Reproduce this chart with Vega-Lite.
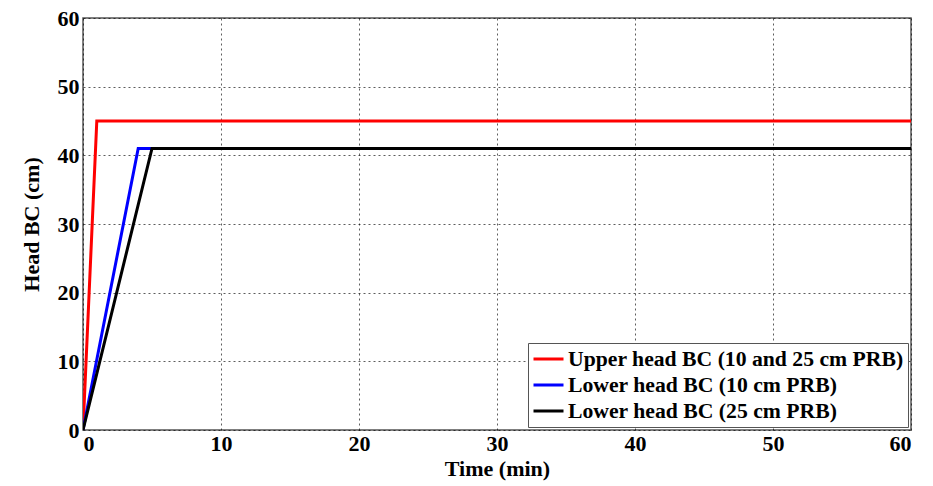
{
  "$schema": "https://vega.github.io/schema/vega-lite/v6.json",
  "width": 828,
  "height": 412,
  "autosize": {"type": "none"},
  "padding": {"left": 83, "top": 18, "right": 22, "bottom": 56},
  "background": "white",
  "config": {
    "font": "Liberation Serif",
    "view": {"stroke": "#555555", "strokeWidth": 1.5},
    "axis": {
      "labelFont": "Liberation Serif",
      "labelFontWeight": "bold",
      "labelFontSize": 22,
      "labelColor": "black",
      "titleFont": "Liberation Serif",
      "titleFontWeight": "bold",
      "titleFontSize": 22,
      "titleColor": "black",
      "gridColor": "black",
      "gridDash": [2, 3],
      "gridWidth": 0.8,
      "gridOpacity": 0.8,
      "domain": false,
      "tickSize": 0
    }
  },
  "data": {
    "values": [
      {"series": "Upper head BC (10 and 25 cm PRB)", "t": 0, "h": 0},
      {"series": "Upper head BC (10 and 25 cm PRB)", "t": 1, "h": 45},
      {"series": "Upper head BC (10 and 25 cm PRB)", "t": 60, "h": 45},
      {"series": "Lower head BC (10 cm PRB)", "t": 0, "h": 0},
      {"series": "Lower head BC (10 cm PRB)", "t": 4, "h": 41},
      {"series": "Lower head BC (10 cm PRB)", "t": 60, "h": 41},
      {"series": "Lower head BC (25 cm PRB)", "t": 0, "h": 0},
      {"series": "Lower head BC (25 cm PRB)", "t": 5, "h": 41},
      {"series": "Lower head BC (25 cm PRB)", "t": 60, "h": 41}
    ]
  },
  "mark": {"type": "line", "strokeWidth": 3, "clip": true},
  "encoding": {
    "x": {
      "field": "t", "type": "quantitative",
      "scale": {"domain": [0, 60], "nice": false},
      "axis": {"values": [0, 10, 20, 30, 40, 50, 60], "title": "Time (min)", "labelPadding": 3, "titlePadding": 4}
    },
    "y": {
      "field": "h", "type": "quantitative",
      "scale": {"domain": [0, 60], "nice": false},
      "axis": {"values": [0, 10, 20, 30, 40, 50, 60], "title": "Head BC (cm)", "labelPadding": 4, "titlePadding": 14}
    },
    "color": {
      "field": "series", "type": "nominal",
      "scale": {
        "domain": ["Upper head BC (10 and 25 cm PRB)", "Lower head BC (10 cm PRB)", "Lower head BC (25 cm PRB)"],
        "range": ["#ff0000", "#0000ff", "#000000"]
      },
      "legend": {
        "title": null,
        "orient": "none",
        "legendX": 445,
        "legendY": 325,
        "direction": "vertical",
        "labelFont": "Liberation Serif",
        "labelFontWeight": "bold",
        "labelFontSize": 21.7,
        "labelColor": "black",
        "labelLimit": 400,
        "symbolType": "stroke",
        "symbolStrokeWidth": 3,
        "symbolSize": 900,
        "clipHeight": 24,
        "rowPadding": 2,
        "labelOffset": 3,
        "fillColor": "white",
        "strokeColor": "#555555",
        "padding": 4
      }
    }
  }
}
